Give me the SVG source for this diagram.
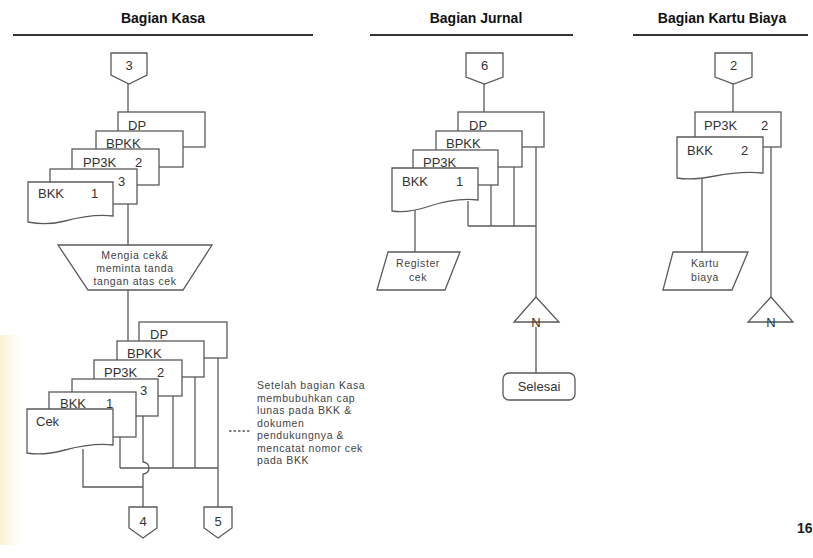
<svg xmlns="http://www.w3.org/2000/svg" width="813" height="558" viewBox="0 0 813 558">
<style>
.s{fill:#fff;stroke:#5a5a5a;stroke-width:1.3}
.c{fill:none;stroke:#5a5a5a;stroke-width:1.3}
.hl{fill:none;stroke:#333;stroke-width:2}
.t{font-family:"Liberation Sans",Arial,sans-serif;fill:#333;font-size:13px}
.m{text-anchor:middle}
.h{font-family:"Liberation Sans",Arial,sans-serif;font-weight:bold;font-size:14px;fill:#111;text-anchor:middle}
.sm{font-family:"Liberation Sans",Arial,sans-serif;fill:#444;font-size:10.5px;letter-spacing:0.6px}
</style>
<defs>
<linearGradient id="tint" x1="0" y1="0" x2="1" y2="0">
<stop offset="0" stop-color="#f8e9b0" stop-opacity="0.6"/>
<stop offset="1" stop-color="#fbf3d6" stop-opacity="0"/>
</linearGradient>
</defs>
<rect width="813" height="558" fill="#fff"/>
<rect x="0" y="335" width="22" height="210" fill="url(#tint)"/>

<g id="headers">
<text class="h" x="163" y="23">Bagian Kasa</text>
<line class="hl" x1="13" y1="35" x2="313" y2="35"/>
<text class="h" x="476" y="23">Bagian Jurnal</text>
<line class="hl" x1="370" y1="35" x2="573" y2="35"/>
<text class="h" x="722" y="23">Bagian Kartu Biaya</text>
<line class="hl" x1="633" y1="35" x2="808" y2="35"/>
</g>

<g id="connectors">
<line class="c" x1="128" y1="84" x2="128" y2="112"/>
<line class="c" x1="128" y1="204" x2="128" y2="245"/>
<line class="c" x1="128" y1="290" x2="128" y2="341"/>
<line class="c" x1="120" y1="437" x2="120" y2="468"/>
<path class="c" d="M143,416 V462 A6,6 0 0 1 143,474 V507"/>
<line class="c" x1="173" y1="396" x2="173" y2="468"/>
<line class="c" x1="195" y1="377" x2="195" y2="468"/>
<line class="c" x1="218" y1="358" x2="218" y2="507"/>
<line class="c" x1="120" y1="468" x2="218" y2="468"/>
<path class="c" d="M83,449 V487 H143"/>
<line class="c" x1="229" y1="431" x2="250" y2="431" stroke-dasharray="2.5 2"/>
<line class="c" x1="484" y1="84" x2="484" y2="112"/>
<line class="c" x1="468" y1="201" x2="468" y2="226"/>
<line class="c" x1="491" y1="185" x2="491" y2="226"/>
<line class="c" x1="514" y1="167" x2="514" y2="226"/>
<line class="c" x1="536" y1="147" x2="536" y2="297"/>
<line class="c" x1="468" y1="226" x2="536" y2="226"/>
<line class="c" x1="415" y1="209" x2="415" y2="252"/>
<line class="c" x1="536" y1="327" x2="536" y2="373"/>
<line class="c" x1="733" y1="84" x2="733" y2="112"/>
<line class="c" x1="702" y1="176" x2="702" y2="252"/>
<line class="c" x1="771" y1="147" x2="771" y2="297"/>
</g>

<g id="conn-3">
<path class="s" d="M111,53 H147 V75 L129,84 L111,75 Z"/>
<text class="t m" x="129" y="70">3</text>
</g>
<g id="kasa-docs-1">
<rect class="s" x="118" y="112" width="87" height="35"/>
<text class="t" x="128" y="130">DP</text>
<rect class="s" x="96" y="131" width="87" height="36"/>
<text class="t" x="106" y="148">BPKK</text>
<rect class="s" x="72" y="149" width="87" height="36"/>
<text class="t" x="83" y="167">PP3K</text>
<text class="t" x="135" y="167">2</text>
<rect class="s" x="50" y="169" width="87" height="35"/>
<text class="t" x="118" y="186">3</text>
<path class="s" d="M28,182 H113 V216 C95,214 80,217 65,221 C50,225 38,224 28,222 Z"/>
<text class="t" x="38" y="198">BKK</text>
<text class="t" x="91" y="198">1</text>
</g>
<g id="kasa-manual">
<polygon class="s" points="58,245 212,245 183,290 88,290"/>
<text class="sm m" x="135" y="259">Mengia cek&amp;</text>
<text class="sm m" x="135" y="272">meminta tanda</text>
<text class="sm m" x="135" y="285">tangan atas cek</text>
</g>
<g id="kasa-docs-2">
<rect class="s" x="139" y="322" width="88" height="36"/>
<text class="t" x="150" y="339">DP</text>
<rect class="s" x="117" y="341" width="87" height="36"/>
<text class="t" x="127" y="358">BPKK</text>
<rect class="s" x="94" y="360" width="88" height="36"/>
<text class="t" x="104" y="377">PP3K</text>
<text class="t" x="157" y="377">2</text>
<rect class="s" x="72" y="379" width="86" height="37"/>
<text class="t" x="140" y="395">3</text>
<rect class="s" x="49" y="392" width="87" height="45"/>
<text class="t" x="60" y="408">BKK</text>
<text class="t" x="106" y="408">1</text>
<path class="s" d="M27,409 H113 V445 C95,443 80,446 65,450 C50,454 38,455 27,453 Z"/>
<text class="t" x="36" y="426">Cek</text>
</g>
<g id="conn-4">
<path class="s" d="M129,507 H157 V528 L143,538 L129,528 Z"/>
<text class="t m" x="143" y="526">4</text>
</g>
<g id="conn-5">
<path class="s" d="M204,507 H232 V528 L218,538 L204,528 Z"/>
<text class="t m" x="218" y="526">5</text>
</g>
<g id="note">
<text class="sm" x="257" y="389">Setelah bagian Kasa</text>
<text class="sm" x="257" y="401.5">membubuhkan cap</text>
<text class="sm" x="257" y="414">lunas pada BKK &amp;</text>
<text class="sm" x="257" y="426.5">dokumen</text>
<text class="sm" x="257" y="439">pendukungnya &amp;</text>
<text class="sm" x="257" y="451.5">mencatat nomor cek</text>
<text class="sm" x="257" y="464">pada BKK</text>
</g>

<g id="conn-6">
<path class="s" d="M466,53 H503 V77 L484.5,84 L466,77 Z"/>
<text class="t m" x="484.5" y="70">6</text>
</g>
<g id="jurnal-docs">
<rect class="s" x="458" y="112" width="86" height="35"/>
<text class="t" x="469" y="130">DP</text>
<rect class="s" x="436" y="131" width="86" height="36"/>
<text class="t" x="446" y="148">BPKK</text>
<rect class="s" x="413" y="150" width="85" height="35"/>
<text class="t" x="423" y="167">PP3K</text>
<path class="s" d="M392,168 H478 V200 C460,198 445,201 430,206 C415,211 403,213 392,211 Z"/>
<text class="t" x="402" y="186">BKK</text>
<text class="t" x="456" y="186">1</text>
</g>
<g id="register-cek">
<polygon class="s" points="388,252 460,252 445,290 377,290"/>
<text class="sm m" x="418" y="267">Register</text>
<text class="sm m" x="418" y="281">cek</text>
</g>
<g id="jurnal-file">
<polygon class="s" points="536,297 514,322 559,322"/>
<text class="t m" x="536" y="327" font-size="12">N</text>
</g>
<g id="selesai">
<rect class="s" x="503" y="373" width="72" height="27" rx="6"/>
<text class="t m" x="539" y="391" font-size="14">Selesai</text>
</g>

<g id="conn-2">
<path class="s" d="M715,53 H752 V77 L733.5,84 L715,77 Z"/>
<text class="t m" x="733.5" y="70">2</text>
</g>
<g id="kartu-docs">
<rect class="s" x="695" y="112" width="86" height="35"/>
<text class="t" x="704" y="130">PP3K</text>
<text class="t" x="761" y="130">2</text>
<path class="s" d="M677,137 H763 V173 C745,171 730,173 715,176 C700,179 688,180 677,178 Z"/>
<text class="t" x="687" y="155">BKK</text>
<text class="t" x="741" y="155">2</text>
</g>
<g id="kartu-biaya">
<polygon class="s" points="673,252 748,252 732,290 663,290"/>
<text class="sm m" x="705" y="267">Kartu</text>
<text class="sm m" x="705" y="281">biaya</text>
</g>
<g id="kartu-file">
<polygon class="s" points="771,297 748,322 793,322"/>
<text class="t m" x="771" y="327" font-size="12">N</text>
</g>

<text x="797" y="533" font-family="Liberation Sans, Arial, sans-serif" font-weight="bold" font-size="14" fill="#222">16</text>
</svg>
